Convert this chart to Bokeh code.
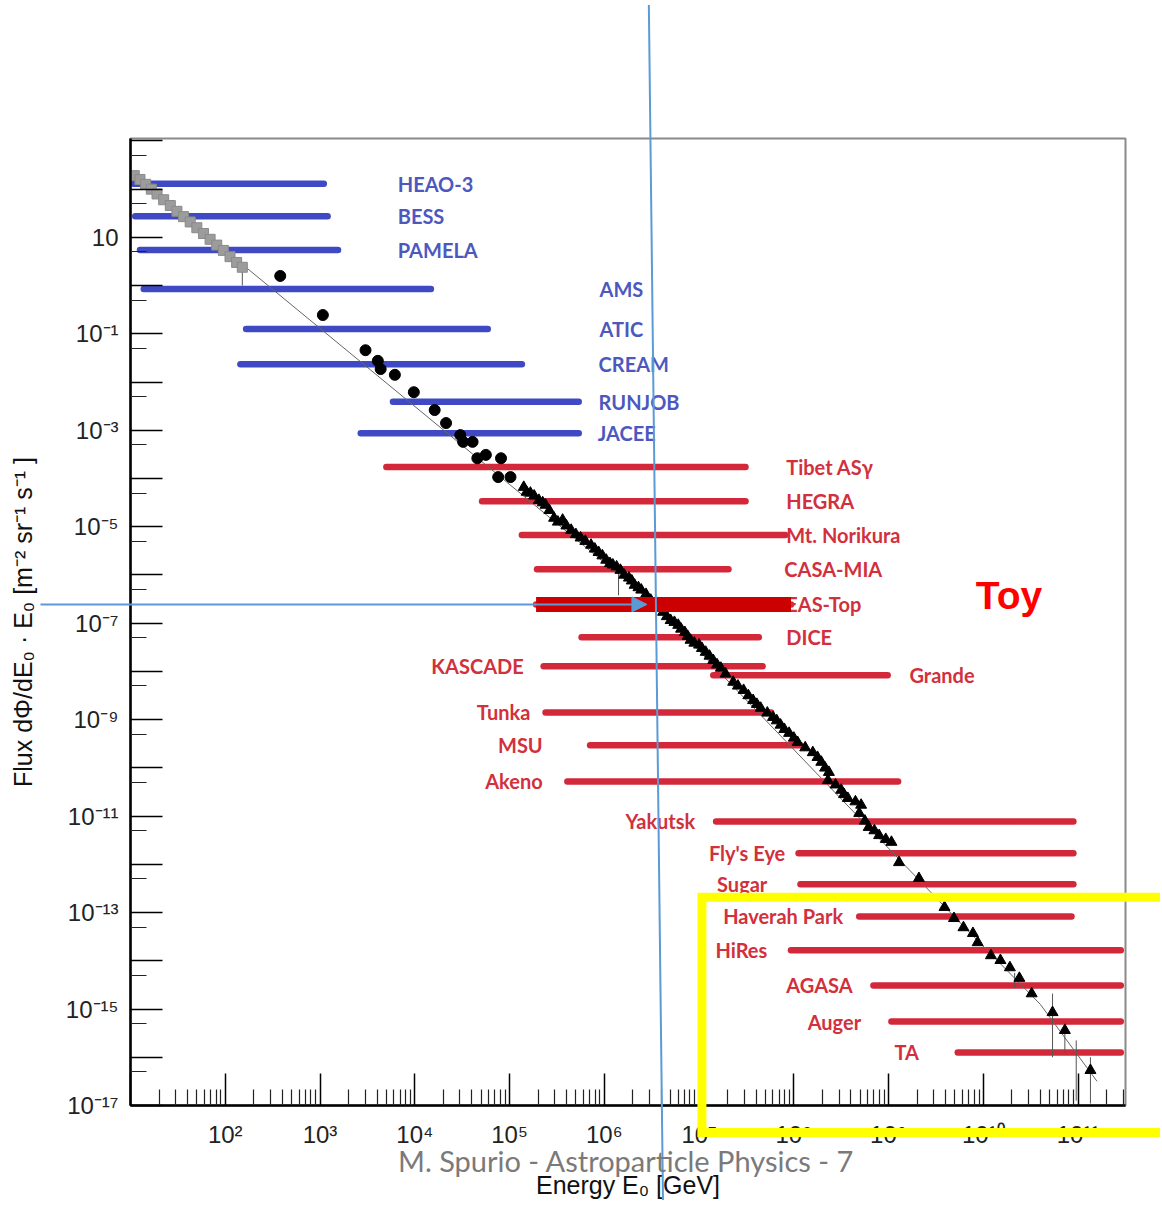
from bokeh.plotting import figure
from bokeh.models import (Range1d, FixedTicker, CustomJSTickFormatter, Arrow,
                          NormalHead, Label, ColumnDataSource)
from bokeh.core.properties import value
from bokeh.embed import file_html
from bokeh.resources import INLINE

# ---------------- data (log10 values) ----------------
exp_names = ["HEAO-3", "BESS", "PAMELA", "AMS", "ATIC", "CREAM", "RUNJOB", "JACEE",
             "Tibet ASγ", "HEGRA", "Mt. Norikura", "CASA-MIA", "EAS-Top", "DICE",
             "KASCADE", "Grande", "Tunka", "MSU", "Akeno", "Yakutsk", "Fly's Eye",
             "Sugar", "Haverah Park", "HiRes", "AGASA", "Auger", "TA"]
exp_logE_min = [1.03, 1.05, 1.10, 1.14, 2.22, 2.16, 3.77, 3.43,
                3.70, 4.71, 5.13, 5.29, 5.28, 5.76, 5.36, 7.15, 5.38, 5.85, 5.61,
                7.18, 8.05, 8.07, 8.69, 7.97, 8.84, 9.03, 9.73]
exp_logE_max = [3.04, 3.08, 3.19, 4.17, 4.77, 5.13, 5.73, 5.73,
                7.49, 7.49, 7.91, 7.31, 7.97, 7.63, 7.67, 8.99, 7.76, 8.07, 9.10,
                10.95, 10.95, 10.95, 10.93, 11.45, 11.45, 11.45, 11.45]
exp_log_level = [2.11, 1.44, 0.74, -0.07, -0.90, -1.63, -2.41, -3.06,
                 -3.76, -4.47, -5.17, -5.88, -6.61, -7.29, -7.89, -8.08, -8.85,
                 -9.53, -10.28, -11.11, -11.77, -12.41, -13.08, -13.78, -14.51,
                 -15.26, -15.90]
exp_kind = ["direct"] * 8 + ["air shower"] * 19

# label anchors (layout)
label_logE = [3.82, 3.82, 3.82, 5.95, 5.95, 5.94, 5.94, 5.93,
              7.92, 7.92, 7.92, 7.90, 7.92, 7.92, 5.15, 9.22, 5.22, 5.35, 5.35,
              6.96, 7.91, 7.72, 8.52, 7.72, 8.62, 8.71, 9.32]
label_side = ["left"] * 14 + ["right", "left"] + ["right"] * 11

# gray squares (low energy direct data)
sq_logE = [1.04, 1.10, 1.16, 1.22, 1.28, 1.35, 1.42, 1.49, 1.56, 1.63, 1.70,
           1.77, 1.84, 1.91, 1.98, 2.05, 2.12, 2.18]
sq_logF = [2.28, 2.20, 2.10, 2.00, 1.90, 1.78, 1.66, 1.54, 1.43, 1.32, 1.20,
           1.08, 0.96, 0.84, 0.73, 0.60, 0.48, 0.38]

# black circles
circ_logE = [2.58, 3.03, 3.48, 3.61, 3.64, 3.79, 3.99, 4.21, 4.33, 4.48, 4.51,
             4.61, 4.66, 4.75, 4.91, 4.88, 5.01]
circ_logF = [0.20, -0.61, -1.34, -1.56, -1.73, -1.85, -2.21, -2.58, -2.85, -3.10,
             -3.24, -3.24, -3.58, -3.51, -3.58, -3.97, -3.97]

# black triangles
tri_logE = [5.15, 5.18, 5.22, 5.26, 5.31, 5.35, 5.38, 5.42, 5.47, 5.51, 5.56, 5.60,
            5.65, 5.70, 5.75, 5.80, 5.86, 5.90, 5.94, 5.98, 6.02, 6.06, 6.09, 6.13,
            6.17, 6.21, 6.26, 6.29, 6.32, 6.36, 6.39, 6.44, 6.49, 6.55, 6.62, 6.66,
            6.70, 6.74, 6.78, 6.81, 6.85, 6.88, 6.91, 6.95, 7.00, 7.03, 7.07, 7.11,
            7.15, 7.19, 7.23, 7.28, 7.36, 7.41, 7.47, 7.52, 7.57, 7.61, 7.65, 7.72,
            7.78, 7.82, 7.86, 7.90, 7.95, 8.00, 8.04, 8.12, 8.20, 8.25, 8.29, 8.33,
            8.37, 8.36, 8.44, 8.50, 8.53, 8.57, 8.65, 8.71, 8.69, 8.75, 8.79, 8.85,
            8.90, 8.97, 9.03, 9.11, 9.32, 9.59, 9.69, 9.79, 9.89, 9.94, 10.08,
            10.18, 10.28, 10.38, 10.51, 10.73, 10.86, 11.13]
tri_logF = [-4.18, -4.28, -4.30, -4.36, -4.45, -4.50, -4.55, -4.66, -4.82, -4.90,
            -4.86, -4.98, -5.07, -5.16, -5.23, -5.30, -5.38, -5.46, -5.53, -5.60,
            -5.69, -5.76, -5.79, -5.83, -5.90, -6.00, -6.06, -6.12, -6.21, -6.26,
            -6.31, -6.40, -6.52, -6.62, -6.77, -6.86, -6.94, -6.98, -7.04, -7.12,
            -7.19, -7.27, -7.35, -7.41, -7.45, -7.52, -7.60, -7.68, -7.77, -7.86,
            -7.93, -8.05, -8.22, -8.30, -8.39, -8.50, -8.60, -8.68, -8.76, -8.86,
            -8.95, -9.02, -9.11, -9.20, -9.28, -9.38, -9.47, -9.58, -9.68, -9.78,
            -9.88, -10.00, -10.09, -10.26, -10.35, -10.46, -10.55, -10.63, -10.70,
            -10.77, -10.94, -11.10, -11.23, -11.30, -11.40, -11.48, -11.54, -11.96,
            -12.29, -12.89, -13.12, -13.31, -13.43, -13.62, -13.89, -13.99, -14.14,
            -14.36, -14.68, -15.07, -15.44, -16.27]

# vertical error bars
err_logE = [2.18, 6.15, 10.33, 10.73, 10.86, 10.98, 11.13]
err_lo = [0.00, -6.42, -14.55, -16.00, -15.90, -16.90, -16.96]
err_hi = [0.38, -5.95, -14.25, -14.68, -15.30, -15.65, -16.00]

# broken power-law fit line
fit_logE = [1.0, 6.5, 9.7, 10.6, 11.2]
fit_logF = [2.35, -6.55, -13.1, -14.9, -16.5]

# "Toy" experiment bar
toy_logE = [5.28, 7.97]
toy_log_level = -6.61

# tick labels
x_tick_exps = [2, 3, 4, 5, 6, 7, 8, 9, 10, 11]
x_tick_labels = ["10²", "10³", "10⁴", "10⁵", "10⁶", "10⁷", "10⁸", "10⁹", "10¹⁰", "10¹¹"]
y_tick_exps = [1, -1, -3, -5, -7, -9, -11, -13, -15, -17]
y_tick_labels = ["10", "10⁻¹", "10⁻³", "10⁻⁵", "10⁻⁷", "10⁻⁹", "10⁻¹¹", "10⁻¹³",
                 "10⁻¹⁵", "10⁻¹⁷"]

# ---------------- layout constants ----------------
X_LOG = (1.0, 11.5)
Y_LOG = (-17.0, 3.05)
FRAME_L, FRAME_T, FRAME_W, FRAME_H = 130, 138, 995, 967
FIG_W, FIG_H = 1160, 1200
DX = FRAME_W / (X_LOG[1] - X_LOG[0])
DY = FRAME_H / (Y_LOG[1] - Y_LOG[0])


def P(a):
    return [10.0 ** v for v in a]


# ---------------- main figure ----------------
p = figure(x_axis_type="log", y_axis_type="log",
           x_range=Range1d(10.0 ** X_LOG[0], 10.0 ** X_LOG[1]),
           y_range=Range1d(10.0 ** Y_LOG[0], 10.0 ** Y_LOG[1]),
           frame_width=FRAME_W, frame_height=FRAME_H,
           min_border_left=FRAME_L, min_border_right=FIG_W - FRAME_L - FRAME_W,
           min_border_top=FRAME_T, min_border_bottom=FIG_H - FRAME_T - FRAME_H,
           output_backend="svg", toolbar_location=None)
p.grid.visible = False
p.background_fill_color = "white"
p.border_fill_color = "white"
p.outline_line_color = "#8a8a8a"
p.outline_line_width = 2

p.xaxis.ticker = FixedTicker(ticks=[10.0 ** k for k in range(1, 12)],
                             minor_ticks=[m * 10.0 ** k for k in range(1, 12) for m in range(2, 10)])
p.yaxis.ticker = FixedTicker(ticks=[10.0 ** k for k in range(-17, 4)],
                             minor_ticks=[5 * 10.0 ** k for k in range(-18, 3)])
fmt_code = """
const e = Math.round(Math.log10(tick));
const i = exps.indexOf(e);
return i >= 0 ? labels[i] : "";
"""
p.xaxis.formatter = CustomJSTickFormatter(args=dict(exps=x_tick_exps, labels=x_tick_labels), code=fmt_code)
p.yaxis.formatter = CustomJSTickFormatter(args=dict(exps=y_tick_exps, labels=y_tick_labels), code=fmt_code)

for ax in (p.xaxis[0], p.yaxis[0]):
    ax.axis_line_width = 2.5
    ax.axis_line_color = "black"
    ax.major_tick_in = 32
    ax.major_tick_out = 0
    ax.minor_tick_in = 16
    ax.minor_tick_out = 0
    ax.major_tick_line_width = 1.5
    ax.minor_tick_line_width = 1.2
    ax.major_tick_line_color = "black"
    ax.minor_tick_line_color = "#222222"
    ax.major_label_text_font = "Liberation Sans"
    ax.major_label_text_font_size = "24px"
    ax.major_label_text_color = "#222222"
    ax.axis_label_text_font = "Liberation Sans"
    ax.axis_label_text_font_size = "25px"
    ax.axis_label_text_font_style = "normal"
    ax.axis_label_text_color = "#111111"

p.xaxis.axis_label = "Energy E₀ [GeV]"
p.yaxis.axis_label = "Flux dΦ/dE₀ · E₀ [m⁻² sr⁻¹ s⁻¹ ]"
p.xaxis.major_label_standoff = 15
p.yaxis.major_label_standoff = 12
p.xaxis.axis_label_standoff = 20
p.yaxis.axis_label_standoff = 26

# ---------------- experiment bars ----------------
blue_bar, blue_txt = "#3f49c4", "#4d58bf"
red_bar, red_txt = "#d3283a", "#d2303d"
bar_col = [blue_bar if k == "direct" else red_bar for k in exp_kind]
txt_col = [blue_txt if k == "direct" else red_txt for k in exp_kind]

bars = ColumnDataSource(dict(x0=P(exp_logE_min), x1=P(exp_logE_max),
                             y=P(exp_log_level), c=bar_col))
p.segment(x0="x0", y0="y", x1="x1", y1="y", source=bars, line_color="c",
          line_width=6.5, line_cap="round")

for side in ("left", "right"):
    idx = [i for i, s in enumerate(label_side) if s == side]
    src = ColumnDataSource(dict(x=[10.0 ** label_logE[i] for i in idx],
                                y=[10.0 ** exp_log_level[i] for i in idx],
                                t=[exp_names[i] for i in idx],
                                c=[txt_col[i] for i in idx]))
    p.text(x="x", y="y", text="t", source=src, text_color="c",
           text_align=side, text_baseline="middle",
           text_font=value("Lato"), text_font_style="bold", text_font_size="20px")

# ---------------- spectrum ----------------
p.line(P(fit_logE), P(fit_logF), line_color="#666666", line_width=1)
p.segment(x0=P(err_logE), y0=P(err_lo), x1=P(err_logE), y1=P(err_hi),
          line_color="#555555", line_width=1)
p.scatter(P(sq_logE), P(sq_logF), marker="square", size=10,
          fill_color="#9c9c9c", line_color="#8a8a8a")
p.scatter(P(circ_logE), P(circ_logF), marker="circle", size=11,
          fill_color="black", line_color="black")
p.scatter(P(tri_logE), P(tri_logF), marker="triangle", size=11,
          fill_color="black", line_color="black")

# ---------------- "Toy" overlay ----------------
p.segment(x0=[10.0 ** toy_logE[0]], y0=[10.0 ** toy_log_level],
          x1=[10.0 ** toy_logE[1]], y1=[10.0 ** toy_log_level],
          line_color="#cc0000", line_width=15, line_cap="butt")
p.add_layout(Label(x=10.0 ** 10.27, y=10.0 ** -6.42, text="Toy",
                   text_align="center", text_baseline="middle",
                   text_font="Liberation Sans", text_font_style="bold",
                   text_font_size="39px", text_color="#ff0000"))

# ---------------- transparent overlay covering the whole page ----------------
# same log mapping as the main frame, extended to the full canvas
ov = figure(x_axis_type="log", y_axis_type="log",
            x_range=Range1d(10.0 ** (X_LOG[0] - FRAME_L / DX),
                            10.0 ** (X_LOG[0] + (FIG_W - FRAME_L) / DX)),
            y_range=Range1d(10.0 ** (Y_LOG[0] - (FIG_H - FRAME_T - FRAME_H) / DY),
                            10.0 ** (Y_LOG[0] + (FRAME_T + FRAME_H) / DY)),
            width=FIG_W, height=FIG_H, min_border=0,
            x_axis_location=None, y_axis_location=None,
            output_backend="svg", toolbar_location=None)
ov.grid.visible = False
ov.background_fill_color = None
ov.border_fill_color = None
ov.outline_line_color = None
ov.styles = {"position": "absolute", "left": "0px", "top": "0px", "z-index": "2"}

arrow_blue = "#5b9bd5"
# yellow highlight box
ov.patch(x=P([7.03, 12.4, 12.4, 7.03]), y=P([-12.68, -12.68, -17.56, -17.56]),
         fill_alpha=0, line_color="#ffff00", line_width=9, line_join="miter")
# horizontal arrow at the toy level
ov.add_layout(Arrow(end=NormalHead(size=15, fill_color=arrow_blue, line_color=arrow_blue),
                    x_start=10.0 ** 0.05, y_start=10.0 ** toy_log_level,
                    x_end=10.0 ** 6.45, y_end=10.0 ** toy_log_level,
                    line_color=arrow_blue, line_width=2))
# vertical line through the knee
ov.line(x=P([6.47, 6.62]), y=P([5.82, -19.1]), line_color=arrow_blue, line_width=2)
# footer
ov.text(x=[10.0 ** 6.23], y=[10.0 ** -18.14], text=["M. Spurio - Astroparticle Physics - 7"],
        text_align="center", text_baseline="middle",
        text_font=value("Lato"), text_font_size="29px", text_color="#7a7a7a")

open("out.html", "w").write(file_html([p, ov], INLINE))
